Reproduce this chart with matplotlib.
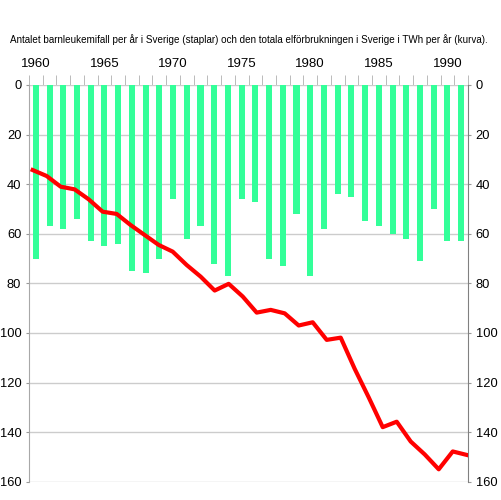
import numpy as np
import matplotlib
matplotlib.use("Agg")
import matplotlib.pyplot as plt

plt.rcParams['font.family'] = ['Liberation Sans', 'DejaVu Sans']

# data
years = list(range(1960, 1992))
leukemia_cases = [70, 57, 58, 54, 63, 65, 64, 75, 76, 70,
                  46, 62, 57, 72, 77, 46, 47, 70, 73, 52,
                  77, 58, 44, 45, 55, 57, 60, 62, 71, 50,
                  63, 63]
electricity_twh = [34.3, 36.7, 41.0, 42.1, 46.1, 51.1, 52.0, 56.5, 60.5, 64.5,
                   67.2, 72.6, 77.3, 82.9, 80.2, 85.3, 91.8, 90.7, 92.1, 97.0,
                   95.7, 102.8, 101.9, 114.5, 126.0, 138.0, 135.8, 143.8, 149.0, 155.0,
                   147.8, 149.2]
label_years = [1960, 1965, 1970, 1975, 1980, 1985, 1990]
y_ticks = [0, 20, 40, 60, 80, 100, 120, 140, 160]
title = ("Antalet barnleukemifall per år i Sverige (staplar) och den totala "
         "elförbrukningen i Sverige i TWh per år (kurva).")

fig = plt.figure(figsize=(5.01, 5.0), dpi=100)
ax = fig.add_axes([29/501, 1-481.7/500, (468-29)/501, (481.7-85)/500])

# curve sits on its own x scale (twin made first, twiny moves ax ticks to bottom)
ax2 = ax.twiny()

ax.bar(years, leukemia_cases, width=0.44, color='#33ff99', zorder=2)
ax.set_xlim(1959.5, 1991.5)
ax.set_ylim(160, 0)

# x axis on top, labels under bar centres, ticks at year boundaries
ax.xaxis.tick_top()
ax.set_xticks(label_years)
ax.set_xticklabels([str(y) for y in label_years], fontsize=9.5)
ax.set_xticks(np.arange(1959.5, 1992, 1), minor=True)
ax.tick_params(axis='x', which='major', length=0, pad=11)
ax.tick_params(axis='x', which='minor', length=7, color='#b0b0b0', top=True, bottom=False)

ax.set_yticks(y_ticks)
ax.tick_params(axis='y', labelsize=9.3, left=True, right=True, labelright=True,
               length=2.5, color='#999999', pad=3)
ax.grid(axis='y', color='#cccccc', lw=1)
ax.set_axisbelow(True)

for s in ['top', 'bottom']:
    ax.spines[s].set_visible(False)
ax.spines['left'].set_color('#a8a8a8')
ax.spines['right'].set_color('#808080')

ax2.plot(years, electricity_twh, color='#ff0000', lw=3, zorder=3)
ax2.set_xlim(1959.74, 1991.09)
ax2.set_xticks([])
for s in ax2.spines.values():
    s.set_visible(False)

fig.text(0.497, 1-40/500, title, ha='center', va='center', fontsize=7.1)

fig.savefig('out.png', dpi=100)
